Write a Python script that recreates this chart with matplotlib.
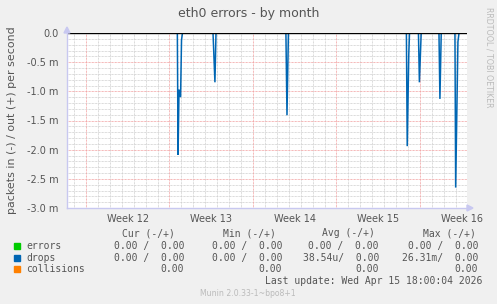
import matplotlib
matplotlib.use("Agg")
import matplotlib.pyplot as plt
from matplotlib.patches import Rectangle, Polygon

# ---------------- data ----------------
# time in days relative to start of Week 12 (Monday)
week_labels = ["Week 12", "Week 13", "Week 14", "Week 15", "Week 16"]
week_starts = [0, 7, 14, 21, 28]
x_start, x_end = -1.59, 31.94

# drops (in, shown negative), packets/s ; spikes as (time, value) polyline
drops_t = [7.66, 7.72, 7.80, 7.93, 8.01, 8.09,
           10.65, 10.81, 10.90,
           16.76, 16.85, 16.97,
           26.86, 26.93, 27.06, 27.12,
           27.87, 27.95, 28.10,
           29.59, 29.67, 29.78,
           30.93, 30.99, 31.18, 31.27]
drops_v = [0.0, -2.09e-3, -0.97e-3, -1.10e-3, -0.12e-3, 0.0,
           0.0, -0.845e-3, 0.0,
           0.0, -1.41e-3, 0.0,
           0.0, -1.94e-3, -0.37e-3, 0.0,
           0.0, -0.845e-3, 0.0,
           0.0, -1.13e-3, 0.0,
           0.0, -2.65e-3, -0.15e-3, 0.0]

y_ticks = [0.0, -0.5e-3, -1.0e-3, -1.5e-3, -2.0e-3, -2.5e-3, -3.0e-3]
y_tick_labels = ["0.0", "-0.5 m", "-1.0 m", "-1.5 m", "-2.0 m", "-2.5 m", "-3.0 m"]

legend_names = ["errors", "drops", "collisions"]
legend_colors = ["#00CC00", "#0066B3", "#FF8000"]
col_headers = ["Cur (-/+)", "Min (-/+)", "Avg (-/+)", "Max (-/+)"]
rows = [
    ["0.00 /  0.00", "0.00 /  0.00", "0.00 /  0.00", "0.00 /  0.00"],
    ["0.00 /  0.00", "0.00 /  0.00", "38.54u/  0.00", "26.31m/  0.00"],
    ["0.00", "0.00", "0.00", "0.00"],
]
last_update = "Last update: Wed Apr 15 18:00:04 2026"

# ---------------- figure ----------------
W, H = 497, 304
fig = plt.figure(figsize=(W / 100, H / 100), dpi=100, facecolor="#F0F0F0")

def fx(px):
    return px / W

def fy(py):
    return 1 - py / H

L, R, T, B = 67, 467, 33, 208
ax = fig.add_axes([fx(L), fy(B), (R - L) / W, (B - T) / H])
ax.set_facecolor("white")
ax.set_xlim(x_start, x_end)
ax.set_ylim(-3.0e-3, 0.0)
for s in ax.spines.values():
    s.set_visible(False)

# grids
dots = (0, (0.72, 0.72))
minor_c = "#CFCFCF"
major_c = "#F2A0A0"
for d in range(-1, 32):
    if d % 7 != 0:
        ax.axvline(d, color=minor_c, lw=0.72, ls=dots, zorder=1)
for k in range(1, 30):
    v = -k * 1e-4
    if k % 5 != 0:
        ax.axhline(v, color=minor_c, lw=0.72, ls=dots, zorder=1)
for v in y_ticks[1:-1]:
    ax.axhline(v, color=major_c, lw=0.72, ls=dots, zorder=1.5)
for d in week_starts:
    ax.axvline(d, color=major_c, lw=0.72, ls=dots, zorder=1.5)

# data
ax.plot(drops_t, drops_v, color="#0066B3", lw=1.1, zorder=3, solid_joinstyle="miter")
ax.axhline(0.0, color="black", lw=1.0, zorder=4)

# axes lines and arrows
axis_c = "#C8C8F0"
ax.plot([0, 0], [0, 1.02], transform=ax.transAxes, color=axis_c, lw=1, clip_on=False, zorder=5)
ax.plot([0, 1.01], [0, 0], transform=ax.transAxes, color=axis_c, lw=1, clip_on=False, zorder=5)
fig.patches.append(Polygon([[fx(L - 3), fy(T - 0)], [fx(L + 3), fy(T - 0)], [fx(L), fy(T - 6)]],
                           closed=True, transform=fig.transFigure, color=axis_c, zorder=6))
fig.patches.append(Polygon([[fx(R + 0), fy(B - 3)], [fx(R + 0), fy(B + 3)], [fx(R + 6), fy(B)]],
                           closed=True, transform=fig.transFigure, color=axis_c, zorder=6))

# ticks
ax.set_yticks(y_ticks)
ax.set_yticklabels(y_tick_labels)
ax.set_xticks([w + 3.5 for w in week_starts])
ax.set_xticklabels(week_labels)
ax.tick_params(axis="both", length=0, labelsize=7, colors="#555555", pad=5)
ax.tick_params(axis="y", pad=6)
ax.tick_params(axis="x", pad=4)

# titles
fig.text(fx(249), fy(13), "eth0 errors - by month", ha="center", va="center",
         fontsize=9, color="#555555")
fig.text(fx(12), fy(120), "packets in (-) / out (+) per second", rotation=90,
         ha="center", va="center", fontsize=7.9, color="#555555")
fig.text(fx(489), fy(57), "RRDTOOL / TOBI OETIKER", rotation=270,
         ha="center", va="center", fontsize=5.7, color="#BBBBBB")

# legend
mono = "DejaVu Sans Mono"
fs = 7
txt_c = "#555555"
header_left = [121.5, 223, 322.5, 423]
col_right = [184, 282, 379, 478]
row_y = [245.7, 257.7, 269.3]
for hx, h in zip(header_left, col_headers):
    fig.text(fx(hx), fy(233.3), h, ha="left", va="center", family=mono, fontsize=fs, color=txt_c)
for i, (name, c) in enumerate(zip(legend_names, legend_colors)):
    fig.patches.append(Rectangle((fx(14), fy(row_y[i] + 3)), 6 / W, 6 / H,
                                 transform=fig.transFigure, color=c))
    fig.text(fx(26.5), fy(row_y[i]), name, ha="left", va="center", family=mono,
             fontsize=fs, color=txt_c)
    for rx, val in zip(col_right, rows[i]):
        fig.text(fx(rx), fy(row_y[i]), val, ha="right", va="center", family=mono,
                 fontsize=fs, color=txt_c)
fig.text(fx(482), fy(281), last_update, ha="right", va="center", family=mono,
         fontsize=fs, color=txt_c)
fig.text(fx(248), fy(293.5), "Munin 2.0.33-1~bpo8+1", ha="center", va="center",
         fontsize=5.6, color="#BBBBBB")

fig.savefig("out.png", dpi=100, facecolor=fig.get_facecolor())
